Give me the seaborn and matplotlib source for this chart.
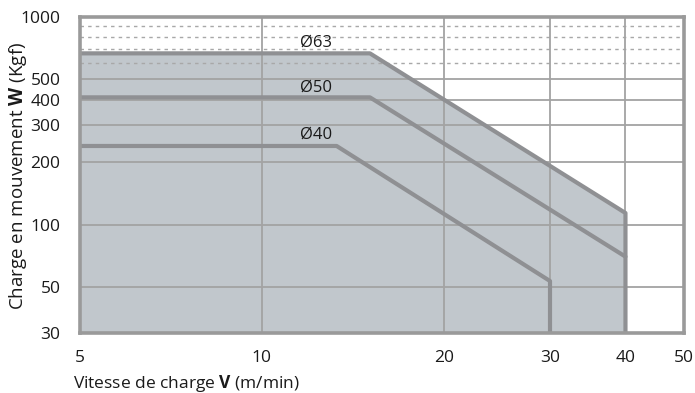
import matplotlib
matplotlib.use("Agg")
import matplotlib.pyplot as plt
import seaborn as sns
import pandas as pd
import numpy as np

# Data
speed_63 = [5, 15.1, 40, 40]
load_63 = [668, 668, 113.6, 30]
speed_50 = [5, 15.1, 40]
load_50 = [410, 410, 70]
speed_40 = [5, 13.3, 30, 30]
load_40 = [239, 239, 53.4, 30]
labels = ["Ø63", "Ø50", "Ø40"]
label_pos_x = [12.3, 12.3, 12.3]
label_pos_y = [755, 458, 272]
x_ticks = [5, 10, 20, 30, 40, 50]
y_ticks = [30, 50, 100, 200, 300, 400, 500, 1000]
y_grid_solid = [50, 100, 200, 300, 400, 500]
y_grid_dashed = [600, 700, 800, 900]
x_grid = [10, 20, 30, 40]

sns.set_style("white")
plt.rcParams['font.family'] = ['Open Sans', 'DejaVu Sans']
plt.rcParams['mathtext.fontset'] = 'custom'
plt.rcParams['mathtext.rm'] = 'Open Sans'
plt.rcParams['mathtext.bf'] = 'Open Sans:bold'

fig = plt.figure(figsize=(6.95, 3.93), dpi=100)
ax = fig.add_axes([80/695, 1-333/393, (684-80)/695, (333-17)/393])
ax.set_xscale('log')
ax.set_yscale('log')
ax.set_xlim(5, 50)
ax.set_ylim(30, 1000)

fill_col = '#c1c7cc'
line_col = '#8f9093'
grid_col = '#a3a3a3'

ax.fill_between(speed_63[:3], load_63[:3], 30, color=fill_col, lw=0, zorder=1)

for v in y_grid_solid:
    ax.axhline(v, color=grid_col, lw=1.3, zorder=2)
for v in y_grid_dashed:
    ax.axhline(v, color='#a8a8a8', lw=1.0, ls=(0, (2.5, 3)), zorder=2)
for v in x_grid:
    ax.axvline(v, color=grid_col, lw=1.3, zorder=2)

frames = []
for lab, xs, ys in zip(labels, [speed_63, speed_50, speed_40], [load_63, load_50, load_40]):
    frames.append(pd.DataFrame({"V": xs, "W": ys, "s": lab, "o": range(len(xs))}))
df = pd.concat(frames, ignore_index=True)
for lab in labels:
    sub = df[df.s == lab]
    sns.lineplot(data=sub, x="V", y="W", sort=False, estimator=None, color=line_col,
                 lw=3.0, ax=ax, zorder=3, legend=False)

for lab, lx, ly in zip(labels, label_pos_x, label_pos_y):
    ax.text(lx, ly, lab, ha='center', va='center', fontsize=12, color='#1a1a1a', zorder=4)

ax.set_xticks(x_ticks)
ax.set_xticklabels([str(t) for t in x_ticks])
ax.set_yticks(y_ticks)
ax.set_yticklabels([str(t) for t in y_ticks])
ax.minorticks_off()
ax.tick_params(axis='x', length=0, pad=12, labelsize=12.5, labelcolor='#1a1a1a')
ax.tick_params(axis='y', length=0, pad=14, labelsize=12.5, labelcolor='#1a1a1a')
for sp in ax.spines.values():
    sp.set_color('#9a9a9a')
    sp.set_linewidth(2.6)
    sp.set_zorder(5)

ax.set_xlabel("")
ax.set_ylabel("")
fig.text(73/695, 1-383/393, r"Vitesse de charge $\mathbf{V}$ (m/min)", ha='left', va='center',
         fontsize=12.5, color='#1a1a1a')
fig.text(18/695, 1-176/393, r"Charge en mouvement $\mathbf{W}$ (Kgf)", ha='center', va='center',
         rotation=90, fontsize=13.5, color='#1a1a1a')

fig.savefig("out.png", dpi=100)
